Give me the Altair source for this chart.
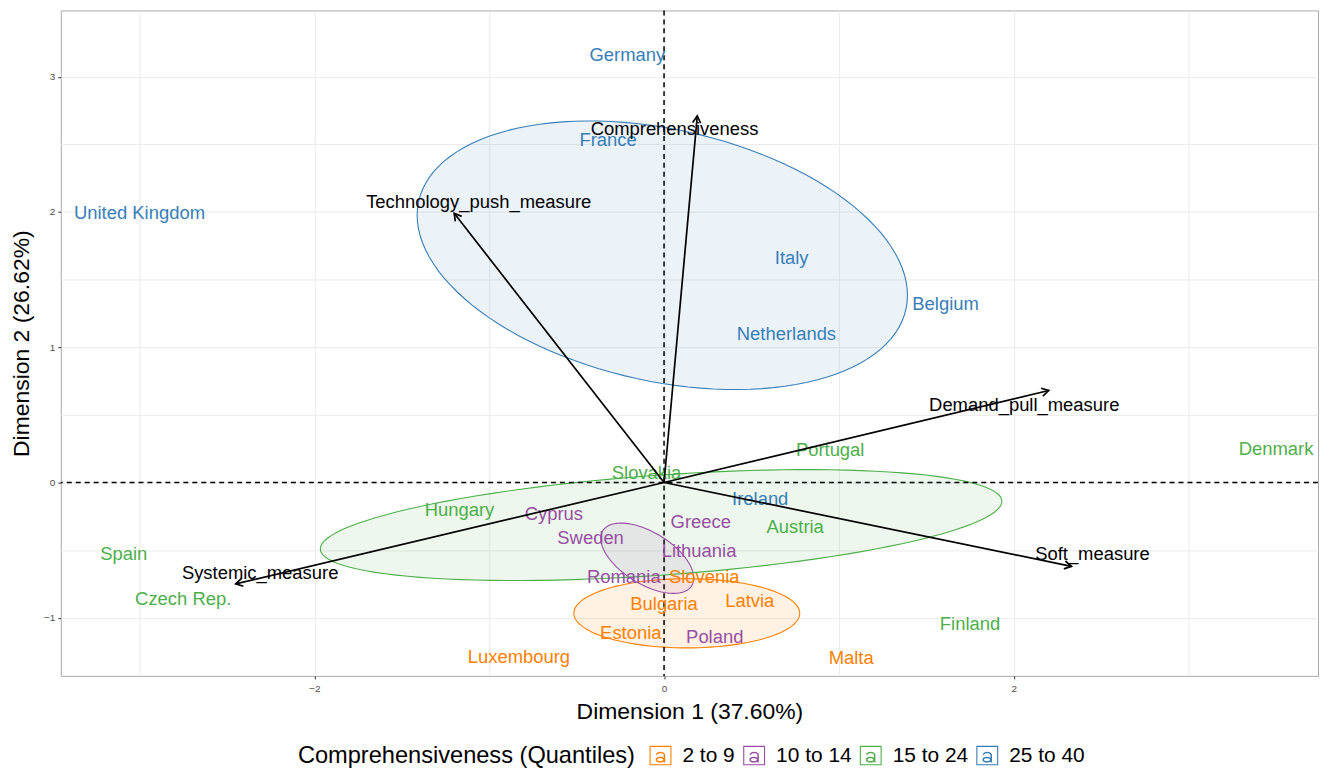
import altair as alt
import numpy as np
import pandas as pd

# ---- data ----
countries = ["Germany", "France", "United Kingdom", "Italy", "Belgium", "Netherlands", "Ireland",
             "Portugal", "Denmark", "Slovakia", "Hungary", "Austria", "Spain", "Czech Rep.", "Finland",
             "Cyprus", "Greece", "Sweden", "Lithuania", "Romania", "Poland",
             "Slovenia", "Bulgaria", "Latvia", "Estonia", "Luxembourg", "Malta"]
dim1 = [-0.21, -0.32, -3.00, 0.73, 1.61, 0.70, 0.55,
        0.95, 3.50, -0.10, -1.17, 0.75, -3.09, -2.75, 1.75,
        -0.63, 0.21, -0.42, 0.20, -0.23, 0.29,
        0.23, 0.00, 0.49, -0.19, -0.83, 1.07]
dim2 = [3.16, 2.53, 1.99, 1.66, 1.32, 1.10, -0.12,
        0.24, 0.25, 0.07, -0.20, -0.33, -0.53, -0.86, -1.05,
        -0.23, -0.29, -0.41, -0.51, -0.70, -1.14,
        -0.70, -0.90, -0.88, -1.11, -1.29, -1.30]
quantile = ["25 to 40"] * 7 + ["15 to 24"] * 8 + ["10 to 14"] * 6 + ["2 to 9"] * 6

variables = ["Comprehensiveness", "Technology_push_measure", "Demand_pull_measure",
             "Soft_measure", "Systemic_measure"]
var_x = [0.19, -1.20, 2.20, 2.33, -2.45]
var_y = [2.71, 1.99, 0.68, -0.62, -0.75]
var_lab_x = [0.06, -1.06, 2.06, 2.45, -2.31]
var_lab_y = [2.61, 2.07, 0.57, -0.53, -0.67]

groups = ["2 to 9", "10 to 14", "15 to 24", "25 to 40"]
group_colors = ["#FF7F00", "#984EA3", "#4DAF4A", "#377EB8"]
# ellipse: centre, x/y half-extent, covariance term (data units)
ell_cx = [0.13, -0.096, -0.017, -0.01]
ell_cy = [-0.967, -0.56, -0.315, 1.68]
ell_sx = [0.646, 0.266, 1.949, 1.402]
ell_sy = [0.256, 0.260, 0.410, 0.993]
ell_cov = [0.0, -0.039, 0.343, -0.415]

# ---- geometry ----
W, H = 1262, 668
xdom = [-3.45, 3.74]
ydom = [-1.43, 3.49]
px_x = W / (xdom[1] - xdom[0])
px_y = H / (ydom[1] - ydom[0])

pts = pd.DataFrame({"country": countries, "d1": dim1, "d2": dim2, "grp": quantile})

rows = []
t = np.linspace(0, 2 * np.pi, 121)
for g, cx, cy, sx, sy, c in zip(groups, ell_cx, ell_cy, ell_sx, ell_sy, ell_cov):
    l21 = c / sx
    l22 = np.sqrt(sy ** 2 - l21 ** 2)
    xs = cx + sx * np.cos(t)
    ys = cy + l21 * np.cos(t) + l22 * np.sin(t)
    for i, (a, b) in enumerate(zip(xs, ys)):
        rows.append({"grp": g, "i": i, "x": a, "y": b})
ell = pd.DataFrame(rows)

ang = [(np.degrees(np.arctan2(-vy * px_y, vx * px_x))) % 360 for vx, vy in zip(var_x, var_y)]
vars_df = pd.DataFrame({"var": variables, "x": var_x, "y": var_y, "x0": 0.0, "y0": 0.0,
                        "lx": var_lab_x, "ly": var_lab_y, "ang": ang})

xs_ = alt.Scale(domain=xdom, nice=False, zero=False)
ys_ = alt.Scale(domain=ydom, nice=False, zero=False)
cscale = alt.Scale(domain=groups, range=group_colors)

xaxis = alt.Axis(values=[-3, -2, -1, 0, 1, 2, 3], format=".0f",
                 labelExpr="datum.value % 2 === 0 ? datum.label : ''",
                 tickOpacity={"condition": {"test": "datum.value % 2 === 0", "value": 1}, "value": 0},
                 title="Dimension 1 (37.60%)")
yaxis = alt.Axis(values=[-1, -0.5, 0, 0.5, 1, 1.5, 2, 2.5, 3], format=".0f",
                 labelExpr="datum.value % 1 === 0 ? datum.label : ''",
                 tickOpacity={"condition": {"test": "datum.value % 1 === 0", "value": 1}, "value": 0},
                 title="Dimension 2 (26.62%)")

base_x = alt.X("x:Q", scale=xs_, axis=xaxis)
base_y = alt.Y("y:Q", scale=ys_, axis=yaxis)

fills = [
    alt.Chart(ell[ell["grp"] == g]).mark_line(fill=c, fillOpacity=0.1, strokeOpacity=0).encode(
        x=alt.X("x:Q", scale=xs_), y=alt.Y("y:Q", scale=ys_), order="i:Q")
    for g, c in zip(groups, group_colors)
]

# legend key: outlined box with an "a" inside (ggplot text key)
key_path = (
    "M-1,-0.89V0.89H1V-0.89Z"
    "M-0.9,-0.79H0.9V0.79H-0.9Z"
    "M0.29,-0.08V0.64H0.43V-0.08Z"
    "M-0.45,0.37A0.42,0.27 0 1,0 0.39,0.37A0.42,0.27 0 1,0 -0.45,0.37Z"
    "M-0.31,0.37A0.28,0.13 0 1,1 0.25,0.37A0.28,0.13 0 1,1 -0.31,0.37Z"
    "M0.43,-0.08A0.43,0.28 0 0,0 -0.43,-0.08L-0.29,-0.08A0.29,0.14 0 0,1 0.29,-0.08Z"
)

ellipses = alt.Chart(ell).mark_line(strokeWidth=1.1).encode(
    x=base_x, y=base_y, order="i:Q", detail="grp:N",
    stroke=alt.Stroke("grp:N", scale=cscale, sort=groups,
                      legend=alt.Legend(title="Comprehensiveness (Quantiles)")),
)

hline = alt.Chart(pd.DataFrame({"y": [0.0]})).mark_rule(color="black", strokeDash=[5, 4], strokeWidth=1.5).encode(
    y=alt.Y("y:Q", scale=ys_))
vline = alt.Chart(pd.DataFrame({"x": [0.0]})).mark_rule(color="black", strokeDash=[5, 4], strokeWidth=1.5).encode(
    x=alt.X("x:Q", scale=xs_))

labels = alt.Chart(pts).mark_text(fontSize=18.5).encode(
    x=alt.X("d1:Q", scale=xs_), y=alt.Y("d2:Q", scale=ys_), text="country:N",
    color=alt.Color("grp:N", scale=cscale, legend=None))

arrows = alt.Chart(vars_df).mark_rule(color="black", strokeWidth=1.7).encode(
    x=alt.X("x0:Q", scale=xs_), y=alt.Y("y0:Q", scale=ys_), x2="x:Q", y2="y:Q")
heads = alt.Chart(vars_df).mark_point(shape="M-1,-0.577L0,0L-1,0.577", filled=False, color="black",
                                      strokeWidth=1.7, size=196, opacity=1).encode(
    x=alt.X("x:Q", scale=xs_), y=alt.Y("y:Q", scale=ys_), angle=alt.Angle("ang:Q", scale=None))
var_labels = alt.Chart(vars_df).mark_text(fontSize=18.5, color="black").encode(
    x=alt.X("lx:Q", scale=xs_), y=alt.Y("ly:Q", scale=ys_), text="var:N")

chart = alt.layer(*fills, ellipses, hline, vline, labels, arrows, heads, var_labels).properties(
    width=W, height=H, padding={"left": 2, "top": 0, "right": 0, "bottom": 0}
).configure(font="Liberation Sans").configure_view(
    stroke="#AAAAAA", strokeWidth=1
).configure_axis(
    domain=False, grid=True, gridColor="#EBEBEB", gridWidth=1, tickColor="#333333", tickSize=3,
    labelColor="#4D4D4D", labelFontSize=10, titleFontSize=23, titleFontWeight="normal",
    titleColor="black", labelPadding=3
).configure_axisX(titlePadding=7, labelPadding=5).configure_axisY(titlePadding=10).configure_legend(
    orient="none", legendX=238, legendY=737, direction="horizontal", titleOrient="left",
    titleFontSize=23.7, titleFontWeight="normal", titleColor="black", titleLimit=500,
    labelFontSize=21, labelColor="black", labelLimit=200,
    symbolType=key_path, symbolSize=484, symbolStrokeWidth=0,
    columnPadding=8, labelOffset=11, titlePadding=14
)

chart.save("out.html", embed_options={"renderer": "svg", "actions": False})
